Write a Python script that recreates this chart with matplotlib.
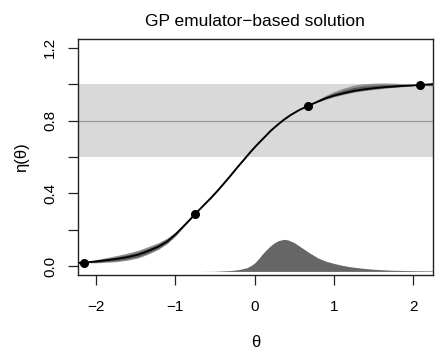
import matplotlib
matplotlib.use("Agg")
import matplotlib.pyplot as plt
import numpy as np

plt.rcParams['font.family'] = ['Liberation Sans', 'DejaVu Sans']

# design points
theta_pts = [-2.16, -0.75, 0.67, 2.09]
eta_pts = [0.02, 0.287, 0.88, 0.996]

# emulator mean curve
theta_curve = [-2.25, -2.16, -2.0, -1.8, -1.72, -1.6, -1.47, -1.35, -1.215, -1.1, -1.0, -0.9,
               -0.8, -0.75, -0.65, -0.557, -0.47, -0.388, -0.3, -0.219, -0.13, -0.05, 0.03, 0.118,
               0.2, 0.287, 0.37, 0.456, 0.56, 0.67, 0.8, 0.9, 1.0, 1.13, 1.257, 1.38, 1.51,
               1.63, 1.76, 1.9, 2.0, 2.09, 2.18, 2.25]
eta_curve = [0.019, 0.02, 0.027, 0.037, 0.042, 0.051, 0.064, 0.083, 0.108, 0.138, 0.175, 0.219,
             0.264, 0.287, 0.332, 0.373, 0.414, 0.455, 0.5, 0.543, 0.588, 0.629, 0.667, 0.706,
             0.743, 0.776, 0.805, 0.831, 0.857, 0.88, 0.905, 0.923, 0.937, 0.951, 0.963, 0.971, 0.978,
             0.983, 0.987, 0.991, 0.993, 0.996, 0.998, 0.999]
# uncertainty band extents above / below the mean
band_up = [0.006, 0.0, 0.01, 0.017, 0.019, 0.022, 0.024, 0.024, 0.022, 0.018, 0.013, 0.008,
           0.003, 0.0, 0.002, 0.003, 0.003, 0.003, 0.003, 0.003, 0.003, 0.003, 0.003, 0.003,
           0.003, 0.003, 0.003, 0.002, 0.001, 0.0, 0.01, 0.016, 0.022, 0.028, 0.032, 0.031, 0.027,
           0.023, 0.018, 0.011, 0.006, 0.0, 0.006, 0.012]
band_lo = [0.004, 0.0, 0.008, 0.013, 0.015, 0.017, 0.018, 0.017, 0.015, 0.012, 0.009, 0.005,
           0.002, 0.0, 0.002, 0.003, 0.003, 0.003, 0.003, 0.003, 0.003, 0.003, 0.003, 0.003,
           0.003, 0.003, 0.003, 0.002, 0.001, 0.0, 0.004, 0.006, 0.007, 0.007, 0.007, 0.007, 0.007,
           0.006, 0.005, 0.004, 0.002, 0.0, 0.005, 0.01]

# posterior density of theta (scaled), drawn at the bottom
theta_dens = [-2.25, -0.7, -0.5, -0.4, -0.3, -0.2, -0.1, -0.05, 0.0, 0.05, 0.1, 0.15, 0.2, 0.25,
              0.3, 0.37, 0.42, 0.5, 0.6, 0.7, 0.8, 0.9, 1.0, 1.1, 1.2, 1.35, 1.5, 1.7, 2.0, 2.25]
dens = [0.0, 0.0, 0.001, 0.003, 0.005, 0.01, 0.02, 0.031, 0.046, 0.07, 0.096, 0.12, 0.14, 0.157,
        0.169, 0.176, 0.173, 0.158, 0.129, 0.1, 0.074, 0.056, 0.044, 0.034, 0.026, 0.018, 0.012,
        0.007, 0.004, 0.003]
dens_base = -0.028

obs_lo, obs_mid, obs_hi = 0.6, 0.8, 1.0

fig = plt.figure(figsize=(4.43, 3.54), dpi=100)
ax = fig.add_axes([0.176, 0.223, 0.801, 0.667])

ax.axhspan(obs_lo, obs_hi, color='#d9d9d9', lw=0, zorder=1)
ax.axhline(obs_mid, color='#9a9a9a', lw=0.9, zorder=2)

d = np.array(dens)
ax.fill_between(theta_dens, dens_base, dens_base + d, color='#666666', lw=0, zorder=3)

tc = np.array(eta_curve)
up = np.array(band_up)
lo = np.array(band_lo)
ax.fill_between(theta_curve, tc - lo, tc + up, color='#909090', lw=0, zorder=4)
ax.fill_between(theta_curve, tc - 0.6 * lo, tc + 0.6 * up, color='#5a5a5a', lw=0, zorder=5)
ax.plot(theta_curve, eta_curve, color='black', lw=1.3, zorder=6, solid_joinstyle='round')
ax.plot(theta_pts, eta_pts, 'o', color='black', ms=5.5, zorder=7)

ax.set_xlim(-2.23, 2.25)
ax.set_ylim(-0.048, 1.248)
ax.set_xticks([-2, -1, 0, 1, 2])
ax.set_xticklabels(['\u22122', '\u22121', '0', '1', '2'])
ax.set_yticks([0.0, 0.2, 0.4, 0.6, 0.8, 1.0, 1.2])
ax.set_yticklabels(['0.0', '', '0.4', '', '0.8', '', '1.2'])
ax.tick_params(axis='both', direction='out', length=7, width=0.9, labelsize=11, color='#222222')
ax.tick_params(axis='x', pad=11)
ax.tick_params(axis='y', pad=8)
for lab in ax.get_yticklabels():
    lab.set_rotation(90)
    lab.set_va('center')
for s in ax.spines.values():
    s.set_linewidth(1.0)
    s.set_color('#222222')

ax.set_title('GP emulator\u2212based solution', fontsize=12.5, pad=9)
ax.set_xlabel('\u03b8', fontsize=12, labelpad=15)
ax.set_ylabel('\u03b7(\u03b8)', fontsize=12, labelpad=10)

fig.savefig('out.png', dpi=100)
